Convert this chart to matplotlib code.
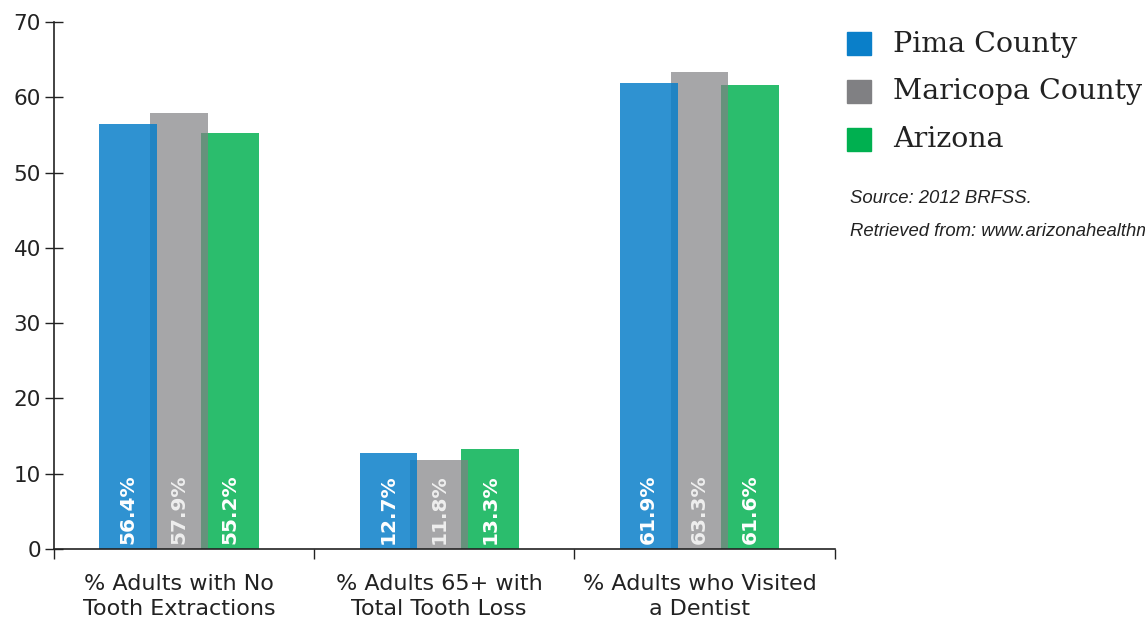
import numpy as np
import matplotlib
matplotlib.use("Agg")
import matplotlib.pyplot as plt

# 2012 BRFSS oral health indicators
categories = ["% Adults with No\nTooth Extractions",
              "% Adults 65+ with\nTotal Tooth Loss",
              "% Adults who Visited\na Dentist"]
series = ["Pima County", "Maricopa County", "Arizona"]
pima = [56.4, 12.7, 61.9]
maricopa = [57.9, 11.8, 63.3]
arizona = [55.2, 13.3, 61.6]

values = [pima, maricopa, arizona]
swatch = ["#0a7fc9", "#808083", "#00b050"]
alphas = [0.85, 0.70, 0.83]
zorders = [4, 3, 2]
offsets = [-0.215, -0.02, 0.175]
label_color = ["white", "#eeeeee", "white"]
width = 0.222

fig = plt.figure(figsize=(11.45, 6.21), dpi=100)
ax = fig.add_axes([0.0472, 0.116, 0.729 - 0.0472, 0.9646 - 0.116])

x = np.arange(len(categories))
for vals, c, a, z, off, lc in zip(values, swatch, alphas, zorders, offsets, label_color):
    ax.bar(x + off, vals, width, color=c, alpha=a, zorder=z, linewidth=0)
    for xi, v in zip(x + off, vals):
        ax.text(xi, 0.6, f"{v:.1f}%", rotation=90, ha="center", va="bottom",
                color=lc, fontsize=14.5, fontweight="bold", zorder=6)

ax.set_xlim(-0.5, 2.5)
ax.set_ylim(0, 70)
ax.set_yticks(range(0, 71, 10))
ax.tick_params(axis="y", direction="inout", length=13, width=1, labelsize=15.5,
               pad=3, colors="#222222")
ax.set_xticks(x - 0.02)
ax.set_xticklabels(categories, fontsize=16, color="#222222", linespacing=1.3)
ax.tick_params(axis="x", length=0, pad=18)
ax.set_xticks([-0.5, 0.5, 1.5, 2.5], minor=True)
ax.tick_params(axis="x", which="minor", direction="out", length=7, width=1,
               color="#222222")

for s in ["top", "right"]:
    ax.spines[s].set_visible(False)
for s in ["left", "bottom"]:
    ax.spines[s].set_color("#222222")
    ax.spines[s].set_linewidth(1.2)
    ax.spines[s].set_zorder(7)

# legend on the right, slab-serif labels
leg_x, leg_y, leg_dy = 0.740, 0.929, 0.077
for i, (name, c) in enumerate(zip(series, swatch)):
    yy = leg_y - i * leg_dy
    fig.patches.append(plt.Rectangle((leg_x, yy - 0.018), 0.0205, 0.037,
                                     transform=fig.transFigure, color=c))
    fig.text(leg_x + 0.04, yy, name, fontsize=20.5, family="DejaVu Serif",
             va="center", ha="left", color="#222222")

fig.text(0.742, 0.681, "Source: 2012 BRFSS.", fontsize=13.3, style="italic",
         family="Liberation Sans", color="#222222", va="center")
fig.text(0.742, 0.628, "Retrieved from: www.arizonahealthmatters.org",
         fontsize=13.3, style="italic", family="Liberation Sans",
         color="#222222", va="center")

fig.savefig("out.png", dpi=100)
